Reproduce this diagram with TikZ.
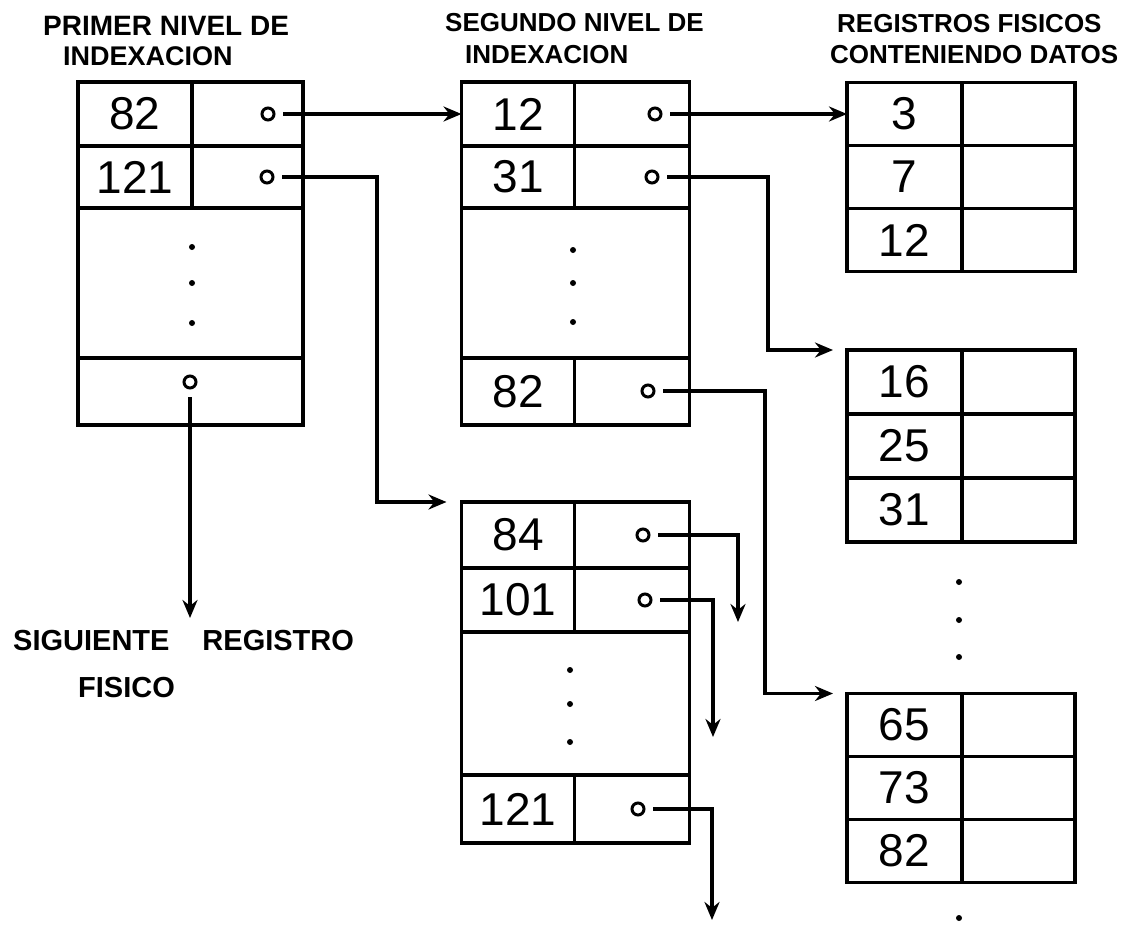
\documentclass[tikz,border=0pt]{standalone}
\usepackage{fontspec}
\setmainfont{Liberation Sans}
\usetikzlibrary{positioning,arrows.meta}

\tikzset{
  cell/.style={draw, line width=3.4pt, inner sep=0pt, outer sep=0pt, font=\fontsize{46}{50}\selectfont},
  ptr/.style={draw, circle, line width=3pt, minimum size=12pt, inner sep=0pt, outer sep=9pt},
  link/.style={line width=3.4pt, -{Stealth[length=18pt,width=15pt]}},
  hdr/.style={font=\fontsize{26}{30}\selectfont\bfseries, inner sep=0pt, anchor=west},
  bighdr/.style={hdr, font=\fontsize{29}{32}\selectfont\bfseries},
  vdot/.style={circle, fill, inner sep=0pt, minimum size=6pt},
}

\begin{document}
\begin{tikzpicture}[x=1pt, y=-1pt]
    \useasboundingbox (0,0) rectangle (1140,924);

    % Headings of the three columns
    \node[hdr, font=\fontsize{28}{30}\selectfont\bfseries] (h1a) at (43,26) {PRIMER NIVEL DE};
    \node[hdr, font=\fontsize{27}{30}\selectfont\bfseries] (h1b) at (63,56) {INDEXACION};
    \node[hdr] (h2a) at (445,23) {SEGUNDO NIVEL DE};
    \node[hdr] (h2b) at (465,55) {INDEXACION};
    \node[hdr] (h3a) at (837,24) {REGISTROS FISICOS};
    \node[hdr] (h3b) at (830,55) {CONTENIENDO DATOS};

    % First level index block
    \node[cell, minimum width=114pt, minimum height=64pt] (a1k) at (135,114) {82};
    \node[cell, minimum width=111pt, minimum height=64pt, right=0pt of a1k] (a1p) {};
    \node[cell, minimum width=114pt, minimum height=62pt, below=0pt of a1k] (a2k) {121};
    \node[cell, minimum width=111pt, minimum height=62pt, right=0pt of a2k] (a2p) {};
    \node[cell, minimum width=225pt, minimum height=150pt, anchor=north west] (adots) at (a2k.south west) {};
    \node[cell, minimum width=225pt, minimum height=67pt, anchor=north west] (alast) at (adots.south west) {};
    \foreach \y in {247,283,323}
        \node[vdot] (adot\y) at (192,\y) {};
    \node[ptr] (a1o) at (268,114) {};
    \node[ptr] (a2o) at (267,177) {};
    \node[ptr] (alo) at (190,382) {};

    % Second level index blocks
    \node[cell, minimum width=113pt, minimum height=64pt] (b1k) at (518,114) {12};
    \node[cell, minimum width=115pt, minimum height=64pt, right=0pt of b1k] (b1p) {};
    \node[cell, minimum width=113pt, minimum height=62pt, below=0pt of b1k] (b2k) {31};
    \node[cell, minimum width=115pt, minimum height=62pt, right=0pt of b2k] (b2p) {};
    \node[cell, minimum width=228pt, minimum height=150pt, anchor=north west] (bdots) at (b2k.south west) {};
    \node[cell, minimum width=113pt, minimum height=67pt, anchor=north west] (blk) at (bdots.south west) {82};
    \node[cell, minimum width=115pt, minimum height=67pt, right=0pt of blk] (blp) {};
    \foreach \y in {250,283,322}
        \node[vdot] (bdot\y) at (573,\y) {};
    \node[ptr] (b1o) at (655,114) {};
    \node[ptr] (b2o) at (652,177) {};
    \node[ptr] (blo) at (648,391) {};

    \node[cell, minimum width=113pt, minimum height=66pt] (c1k) at (518,535) {84};
    \node[cell, minimum width=115pt, minimum height=66pt, right=0pt of c1k] (c1p) {};
    \node[cell, minimum width=113pt, minimum height=64pt, below=0pt of c1k] (c2k) {101};
    \node[cell, minimum width=115pt, minimum height=64pt, right=0pt of c2k] (c2p) {};
    \node[cell, minimum width=228pt, minimum height=143pt, anchor=north west] (cdots) at (c2k.south west) {};
    \node[cell, minimum width=113pt, minimum height=68pt, anchor=north west] (clk) at (cdots.south west) {121};
    \node[cell, minimum width=115pt, minimum height=68pt, right=0pt of clk] (clp) {};
    \foreach \y in {670,704,742}
        \node[vdot] (cdot\y) at (570,\y) {};
    \node[ptr] (c1o) at (643,535) {};
    \node[ptr] (c2o) at (645,600) {};
    \node[ptr] (clo) at (638,809) {};

    % Physical data records
    \foreach \v [count=\i] in {3,7,12} {
        \node[cell, minimum width=115pt, minimum height=63pt] (dk\i) at (904.5,51+63*\i) {\v};
        \node[cell, minimum width=113pt, minimum height=63pt, right=0pt of dk\i] (dv\i) {};
    }
    \foreach \v [count=\i] in {16,25,31} {
        \node[cell, minimum width=115pt, minimum height=64pt] (ek\i) at (904.5,318+64*\i) {\v};
        \node[cell, minimum width=113pt, minimum height=64pt, right=0pt of ek\i] (ev\i) {};
    }
    \foreach \v [count=\i] in {65,73,82} {
        \node[cell, minimum width=115pt, minimum height=63pt] (fk\i) at (904.5,662+63*\i) {\v};
        \node[cell, minimum width=113pt, minimum height=63pt, right=0pt of fk\i] (fv\i) {};
    }
    \foreach \y in {582,620,657,918}
        \node[vdot] (fdot\y) at (959,\y) {};

    % Next physical record label
    \node[bighdr] (sig) at (13,641) {SIGUIENTE\hspace{33pt}REGISTRO};
    \node[bighdr] (fis) at (78,688) {FISICO};
    \coordinate (sigtip) at (190,618);
    \draw[link] (alo) -- (sigtip);

    % Pointers from the first level
    \draw[link] (a1o) -- (b1k);
    \coordinate (bendA) at (377,0);
    \draw[link] (a2o) -- (a2o -| bendA) |- ([xshift=-15pt]c1k.north west);

    % Pointers from the second level
    \draw[link] (b1o) -- (dk1);
    \coordinate (bendB) at (768,0);
    \draw[link] (b2o) -- (b2o -| bendB) |- ([xshift=-14pt]ek1.north west);
    \coordinate (bendC) at (765,0);
    \draw[link] (blo) -- (blo -| bendC) |- ([xshift=-14pt]fk1.north west);

    \coordinate (c1end) at (738,622);
    \coordinate (c2end) at (713,737);
    \coordinate (clend) at (712,920);
    \draw[link] (c1o) -| (c1end);
    \draw[link] (c2o) -| (c2end);
    \draw[link] (clo) -| (clend);

\end{tikzpicture}
\end{document}
